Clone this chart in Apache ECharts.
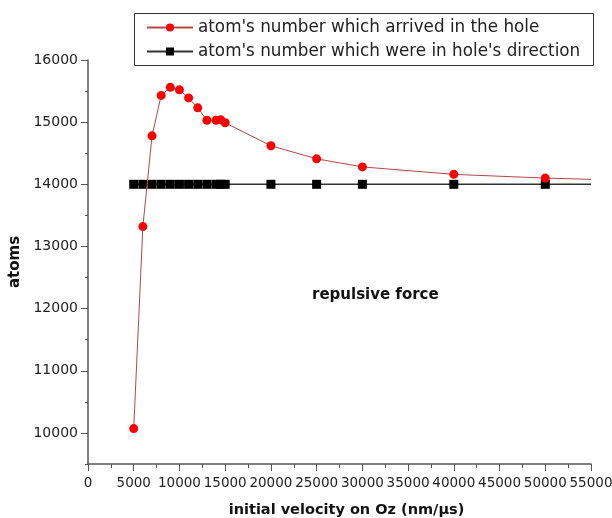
<!DOCTYPE html>
<html>
<head>
<meta charset="utf-8">
<script src="https://cdn.jsdelivr.net/npm/echarts@6/dist/echarts.min.js"></script>
<style>
  html, body { margin: 0; padding: 0; background: #fff; }
  #chart { width: 612px; height: 518px; }
</style>
</head>
<body>
<div id="chart"></div>
<script>
// Initial velocity on Oz (nm/µs); the last entry only carries the line to the axis end
const velocities = [5000, 6000, 7000, 8000, 9000, 10000, 11000, 12000, 13000, 14000, 14500, 15000, 20000, 25000, 30000, 40000, 50000, 55000];
// Atoms that arrived in the hole
const arrivedAtoms = [10070, 13320, 14780, 15430, 15560, 15520, 15390, 15230, 15030, 15030, 15040, 14990, 14620, 14410, 14280, 14160, 14100, 14080];
// Atoms that were moving in the hole's direction
const directionAtoms = [14000, 14000, 14000, 14000, 14000, 14000, 14000, 14000, 14000, 14000, 14000, 14000, 14000, 14000, 14000, 14000, 14000, 14000];

// Major tick values of the atoms axis
const yTicks = [10000, 11000, 12000, 13000, 14000, 15000, 16000];

const arrivedName = "atom's number which arrived in the hole";
const directionName = "atom's number which were in hole's direction";

function toPoints(values) {
  return velocities.map((v, i) => {
    const item = { value: [v, values[i]] };
    if (i === velocities.length - 1) item.symbol = 'none';
    return item;
  });
}

const chart = echarts.init(document.getElementById('chart'), null, { renderer: 'canvas' });
const font = 'DejaVu Sans';
const axisColor = '#555';

chart.setOption({
  animation: false,
  backgroundColor: '#fff',
  grid: { left: 88, right: 21, top: 60, bottom: 54, containLabel: false, outerBoundsMode: 'none' },
  graphic: [
    {
      type: 'rect', left: 134, top: 13, z: 5,
      shape: { width: 459, height: 52 },
      style: { fill: '#fff', stroke: '#333', lineWidth: 1 }
    },
    {
      type: 'text', left: 312, top: 288, z: 5,
      style: { text: 'repulsive force', font: 'bold 15px "DejaVu Sans"', fill: '#111' }
    }
  ],
  legend: {
    orient: 'vertical',
    left: 146, top: 19, padding: 0,
    itemWidth: 46, itemHeight: 10, itemGap: 7,
    z: 6,
    data: [arrivedName, directionName],
    textStyle: { fontFamily: font, fontSize: 16.8, color: '#222', lineHeight: 17 }
  },
  xAxis: {
    type: 'value', min: 0, max: 55000, interval: 5000,
    name: 'initial velocity on Oz (nm/µs)',
    nameLocation: 'middle', nameGap: 39,
    nameTextStyle: { fontFamily: font, fontWeight: 'bold', fontSize: 14.5, color: '#111', padding: [0, 0, 0, 14] },
    axisLine: { lineStyle: { color: axisColor, width: 1.5 } },
    axisTick: { length: 7, lineStyle: { color: axisColor } },
    minorTick: { show: true, splitNumber: 2, length: 4, lineStyle: { color: axisColor } },
    splitLine: { show: false },
    axisLabel: {
      fontFamily: font, fontSize: 13.5, color: '#222', margin: 12,
      showMinLabel: true, showMaxLabel: true, hideOverlap: false,
      formatter: v => String(v)
    }
  },
  yAxis: [
    {
      type: 'value', min: 9500, max: 16000, interval: 500,
      name: 'atoms', nameLocation: 'middle', nameGap: 65,
      nameTextStyle: { fontFamily: font, fontWeight: 'bold', fontSize: 15, color: '#111' },
      axisLine: { show: true, lineStyle: { color: axisColor, width: 1.5 } },
      axisTick: { show: true, length: 3, lineStyle: { color: axisColor } },
      splitLine: { show: false },
      axisLabel: {
        fontFamily: font, fontSize: 14, color: '#222', margin: 10,
        formatter: v => (v % 1000 === 0 ? String(v) : '')
      }
    },
    {
      type: 'value', min: 9500, max: 16000, position: 'left',
      axisLine: { show: false },
      axisTick: { show: true, length: 7, lineStyle: { color: axisColor }, customValues: yTicks },
      axisLabel: { show: false },
      splitLine: { show: false }
    }
  ],
  series: [
    {
      name: arrivedName, type: 'line', z: 4,
      data: toPoints(arrivedAtoms),
      symbol: 'circle', symbolSize: 9,
      itemStyle: { color: '#ff0000' },
      lineStyle: { color: '#b04a46', width: 1 }
    },
    {
      name: directionName, type: 'line', z: 3,
      data: toPoints(directionAtoms),
      symbol: 'rect', symbolSize: 9,
      itemStyle: { color: '#000' },
      lineStyle: { color: '#333', width: 1.5 }
    }
  ]
});
</script>
</body>
</html>
